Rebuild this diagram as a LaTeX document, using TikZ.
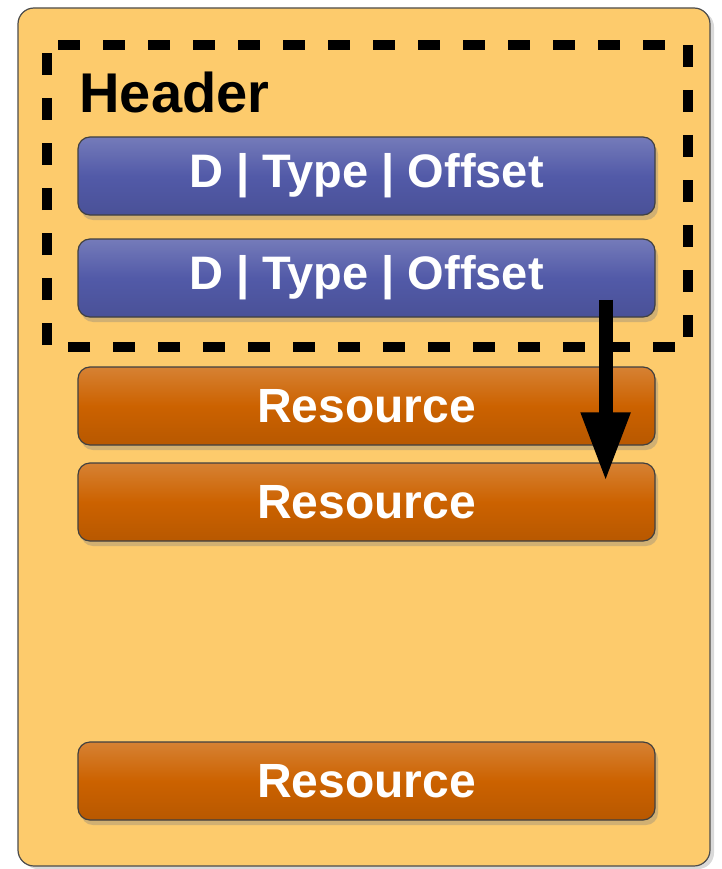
\documentclass[tikz,border=0pt]{standalone}
\usepackage{fontspec}
\setmainfont{Liberation Sans}
\usetikzlibrary{shadows,arrows.meta}
\definecolor{panel}{RGB}{253,203,108}
\definecolor{hdrblue}{RGB}{82,90,168}
\definecolor{resorange}{RGB}{204,98,0}

\begin{document}
\begin{tikzpicture}[x=1pt,y=-1pt,
  box/.style={draw=black!75,line width=1.2pt,rounded corners=12pt,
    minimum width=577pt,minimum height=78pt,inner sep=0pt,text=white,
    font=\fontsize{47}{50}\selectfont\bfseries,
    drop shadow={shadow xshift=3pt,shadow yshift=-5pt,opacity=0.35}},
  field/.style={box,top color=hdrblue!80!white,bottom color=hdrblue!90!black,middle color=hdrblue},
  res/.style={box,top color=resorange!80!white,bottom color=resorange!90!black,middle color=resorange,
    font=\fontsize{48}{50}\selectfont\bfseries},
  pointer/.style={line width=14pt,-{Triangle[length=69pt,width=46pt]}}]
\useasboundingbox (0,0) rectangle (721,869);
\draw[fill=panel,draw=black!70,line width=1.2pt,rounded corners=16pt,
  drop shadow={shadow xshift=4pt,shadow yshift=-3pt,opacity=0.3}] (18,8) rectangle (710,866);
\draw[line width=10pt,dash pattern=on 22pt off 23pt,dash phase=34pt]
  (47,45) -- (688,45) -- (688,347) -- (47,347) -- cycle;
\node[anchor=base west,font=\fontsize{56}{60}\selectfont\bfseries] (hdr) at (76,113) {Header};
\node[field] (f1) at (366.5,176) {D | Type | Offset};
\node[field] (f2) at (366.5,278) {D | Type | Offset};
\node[res] (r1) at (366.5,406) {Resource};
\node[res] (r2) at (366.5,502) {Resource};
\node[res] (r3) at (366.5,781) {Resource};
\draw[pointer] ([xshift=-50pt,yshift=18pt]f2.south east) -- ([xshift=-50pt,yshift=-19pt]r2.north east);
\end{tikzpicture}
\end{document}
